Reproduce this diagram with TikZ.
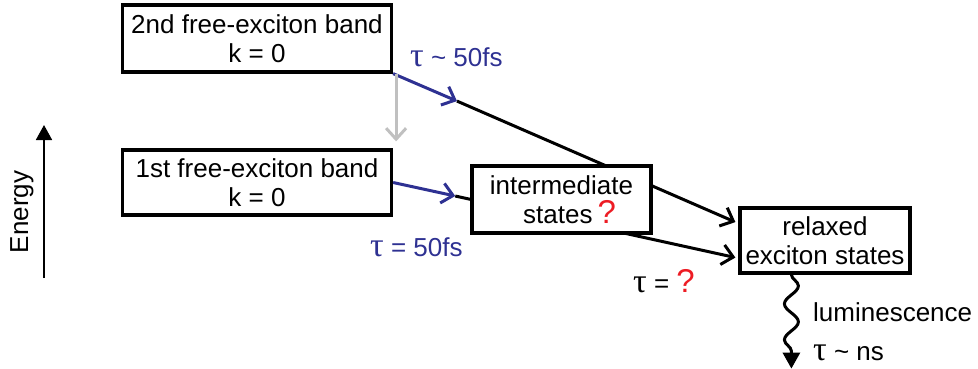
\documentclass[tikz,border=0pt]{standalone}
\usepackage{fontspec}
\setmainfont{Liberation Sans}
\newfontfamily\symf{Liberation Serif}
\usetikzlibrary{arrows.meta,decorations.pathmorphing,calc}
\definecolor{tblue}{RGB}{46,49,146}
\definecolor{qred}{RGB}{237,28,36}
\definecolor{lgray}{RGB}{192,192,192}
\newcommand{\tauc}{{\symf\fontsize{34}{34}\selectfont τ}}
\newcommand{\qm}{\textcolor{qred}{\fontsize{33}{33}\selectfont ?}}
\begin{document}
\begin{tikzpicture}[x=1pt,y=-1pt,
  font=\fontsize{26}{29}\selectfont,
  box/.style={draw, line width=3.2pt, fill=white, inner sep=0pt, align=center},
  conn/.style={line width=3pt},
  barb/.style={-{Straight Barb[length=11pt,width=20pt,line width=3pt]}},
  lbl/.style={inner sep=0pt}]
\useasboundingbox (0,0) rectangle (978,368);

\node[box, minimum width=269pt, minimum height=67pt] (b1) at (257,38.5) {2nd free-exciton band\\k = 0};
\node[box, minimum width=269pt, minimum height=65pt] (b2) at (257,182.5) {1st free-exciton band\\k = 0};
\node[box, minimum width=170pt, minimum height=65pt] (rel) at (825,240.5) {relaxed\\exciton states};

\coordinate (r1) at ($(rel.north west)!0.23!(rel.south west)$);
\coordinate (r2) at ($(rel.north west)!0.75!(rel.south west)$);
\coordinate (m1) at ($(b1.south east)!0.185!(r1)$);
\coordinate (m2) at ($(b2.east)!0.18!(r2)$);

% upper path
\draw[conn, barb] (m1) -- ([xshift=-3pt]r1);
\draw[conn, tblue, barb] (b1.south east) -- (m1);
% lower path
\draw[conn, barb] (m2) -- ([xshift=-3pt]r2);
\draw[conn, tblue, barb] (b2.east) -- (m2);
% gray relaxation
\draw[conn, lgray, barb] ([xshift=3pt]b1.south east) -- ([xshift=3pt,yshift=7pt]b2.north east);

\node[box, minimum width=179pt, minimum height=67pt] (inter) at (561.5,199.5) {intermediate\\\hspace*{16pt}states\hspace{5pt}\qm};

% labels
\node[lbl, tblue, anchor=west] (l1) at (410,57) {\tauc\ \textasciitilde\ 50fs};
\node[lbl, tblue, anchor=west] (l2) at (370,247) {\tauc\ = 50fs};
\node[lbl, anchor=west] (l3) at (633,281) {\tauc\ = \qm};

% luminescence
\coordinate (w1) at ($(rel.south west)+(53,0)$);
\coordinate (w2) at ($(rel.south west)+(53,94)$);
\draw[line width=3pt, decorate, decoration={snake, amplitude=7pt, segment length=36pt, post length=16pt},
  -{Triangle[length=16pt,width=17pt]}] (w1) -- (w2);
\node[lbl, anchor=west] (lum) at (813,312) {luminescence};
\node[lbl, anchor=west] (tns) at (813,353) {\tauc\ \textasciitilde\ ns};

% energy axis
\coordinate (e0) at (44,278);
\coordinate (e1) at (44,125);
\draw[line width=1.8pt, -{Triangle[length=15pt,width=16pt]}] (e0) -- (e1);
\node[lbl, rotate=90] (en) at (22,212) {Energy};
\end{tikzpicture}
\end{document}
